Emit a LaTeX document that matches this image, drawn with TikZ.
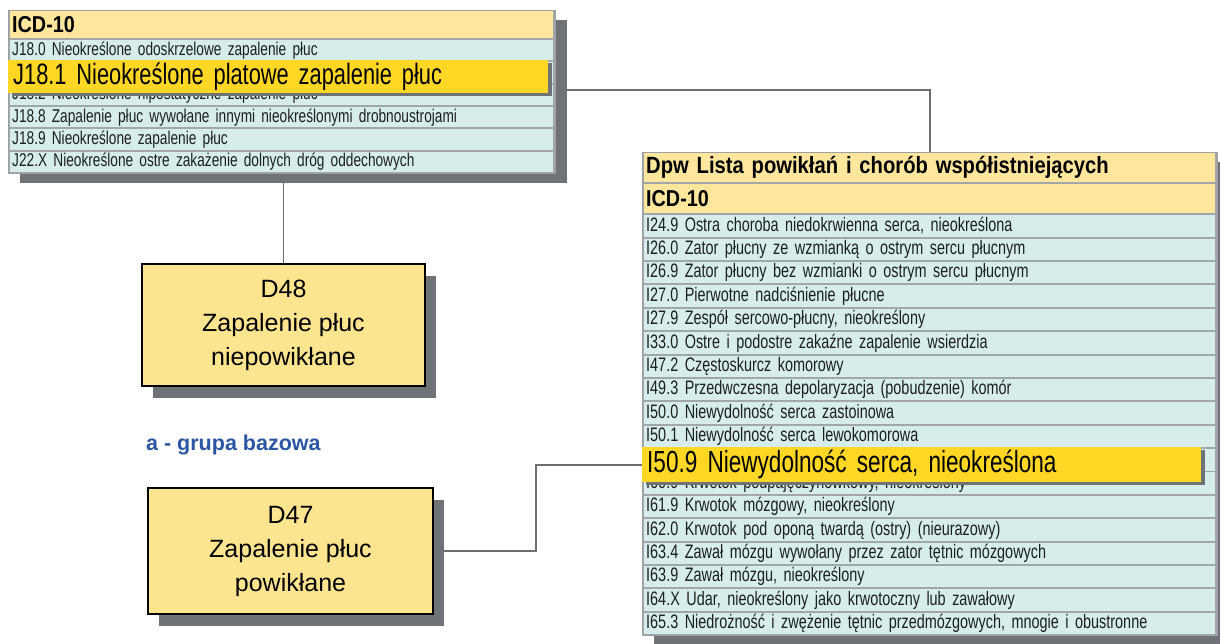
\documentclass[tikz,border=0pt]{standalone}
\usepackage{fontspec}
\setmainfont{Liberation Sans}
\newfontfamily\nrw[FakeStretch=0.74]{Liberation Sans}
\newfontfamily\nrwb[FakeStretch=0.86]{Liberation Sans Bold}
\usetikzlibrary{shadows}
\pgfdeclarelayer{background}
\pgfsetlayers{background,main}

\definecolor{hdrY}{HTML}{FEE69C}
\definecolor{rowC}{HTML}{D6EDEC}
\definecolor{sepG}{HTML}{A2A6A8}
\definecolor{frameG}{HTML}{9DA1A3}
\definecolor{shadowG}{HTML}{6F7377}
\definecolor{hlY}{HTML}{FFD724}
\definecolor{boxY}{HTML}{FDE48F}
\definecolor{connG}{HTML}{6C6F72}
\definecolor{blueT}{HTML}{2B56A3}
\definecolor{txt}{HTML}{1E1E1E}

\tikzset{
  conn/.style={draw=connG, line width=1.8pt},
  tablebg/.style={anchor=north west, fill=sepG, draw=frameG, line width=1pt,
    inner sep=0pt,
    drop shadow={shadow xshift=11pt, shadow yshift=-10pt, fill=shadowG, opacity=1}},
  hdrrow/.style={anchor=north west, fill=hdrY, inner ysep=0pt, inner xsep=2pt,
    align=left, text=black, font=\nrwb\fontsize{23}{23}\selectfont},
  rowL/.style={anchor=north west, fill=rowC, inner ysep=0pt, inner xsep=2pt,
    text width=539pt, minimum height=20.3pt, align=left, text=txt,
    font=\nrw\fontsize{18.5}{18.5}\selectfont},
  rowR/.style={anchor=north west, fill=rowC, inner ysep=0pt, inner xsep=2pt,
    text width=567pt, minimum height=21.4pt, align=left, text=txt,
    font=\nrw\fontsize{19.5}{19.5}\selectfont},
  hlbar/.style={anchor=north west, fill=hlY, inner ysep=0pt, inner xsep=5pt,
    align=left, text=black, font=\nrw\fontsize{29.5}{29.5}\selectfont,
    drop shadow={shadow xshift=4pt, shadow yshift=-3pt, fill=shadowG, opacity=1}},
  groupbox/.style={anchor=north west, fill=boxY, draw=black, line width=2pt,
    align=center, inner sep=0pt, font=\fontsize{25}{34}\selectfont,
    drop shadow={shadow xshift=11pt, shadow yshift=-12pt, fill=shadowG, opacity=1}},
}

\begin{document}
\begin{tikzpicture}[x=1pt, y=-1pt]
\useasboundingbox (0,0) rectangle (1220,644);

% ---- left table: ICD-10 codes of the base group
\node[tablebg, minimum width=547pt, minimum height=163pt] (tabL) at (8,10) {};
\node[hdrrow, text width=539pt, minimum height=27pt] (hdrL) at (10,11) {ICD-10};
\foreach \t [count=\i from 0] in {
  {J18.0 Nieokreślone odoskrzelowe zapalenie płuc},
  {},
  {J18.2 Nieokreślone hipostatyczne zapalenie płuc},
  {J18.8 Zapalenie płuc wywołane innymi nieokreślonymi drobnoustrojami},
  {J18.9 Nieokreślone zapalenie płuc},
  {J22.X Nieokreślone ostre zakażenie dolnych dróg oddechowych}}
  \node[rowL] (l\i) at (10,{40+\i*22.3}) {\t};
\node[hlbar, text width=530pt, minimum height=33pt] (hl1) at (8,60)
  {J18.1 Nieokreślone platowe zapalenie płuc};

% ---- right table: complications and comorbidities
\node[tablebg, minimum width=575pt, minimum height=483pt] (tabR) at (642,152) {};
\node[hdrrow, text width=567pt, minimum height=29pt, font=\nrwb\fontsize{23.5}{23.5}\selectfont]
  (ttlR) at (644,153) {Dpw Lista powikłań i chorób współistniejących};
\node[hdrrow, text width=567pt, minimum height=29pt] (hdrR) at (644,184) {ICD-10};
\foreach \t [count=\i from 0] in {
  {I24.9 Ostra choroba niedokrwienna serca, nieokreślona},
  {I26.0 Zator płucny ze wzmianką o ostrym sercu płucnym},
  {I26.9 Zator płucny bez wzmianki o ostrym sercu płucnym},
  {I27.0 Pierwotne nadciśnienie płucne},
  {I27.9 Zespół sercowo-płucny, nieokreślony},
  {I33.0 Ostre i podostre zakaźne zapalenie wsierdzia},
  {I47.2 Częstoskurcz komorowy},
  {I49.3 Przedwczesna depolaryzacja (pobudzenie) komór},
  {I50.0 Niewydolność serca zastoinowa},
  {I50.1 Niewydolność serca lewokomorowa},
  {},
  {I60.9 Krwotok podpajęczynówkowy, nieokreślony},
  {I61.9 Krwotok mózgowy, nieokreślony},
  {I62.0 Krwotok pod oponą twardą (ostry) (nieurazowy)},
  {I63.4 Zawał mózgu wywołany przez zator tętnic mózgowych},
  {I63.9 Zawał mózgu, nieokreślony},
  {I64.X Udar, nieokreślony jako krwotoczny lub zawałowy},
  {I65.3 Niedrożność i zwężenie tętnic przedmózgowych, mnogie i obustronne}}
  \node[rowR] (r\i) at (644,{215+\i*23.39}) {\t};
\node[hlbar, text width=549pt, minimum height=35pt, inner xsep=5pt,
  font=\nrw\fontsize{30.5}{30.5}\selectfont] (hl2) at (642,447)
  {I50.9 Niewydolność serca, nieokreślona};

% ---- groups
\node[groupbox, minimum width=283pt, minimum height=122pt] (d48) at (141,263)
  {D48\\Zapalenie płuc\\niepowikłane};
\node[groupbox, minimum width=285pt, minimum height=126pt] (d47) at (147,487)
  {D47\\Zapalenie płuc\\powikłane};
\node[anchor=west, inner sep=0pt, text=blueT, font=\bfseries\fontsize{21.5}{21.5}\selectfont]
  (lbl) at (146,445) {a - grupa bazowa};

% ---- connectors
\coordinate (yL) at (0,90);
\coordinate (xbend) at (536,0);
\begin{pgfonlayer}{background}
  \draw[conn] (tabL.east |- yL) -| (tabR.north);
  \draw[conn] (d48.north |- tabL.south) -- (d48.north);
  \draw[conn] (d47.east) -- (d47.east -| xbend) |- (hl2.west);
\end{pgfonlayer}
\end{tikzpicture}
\end{document}
